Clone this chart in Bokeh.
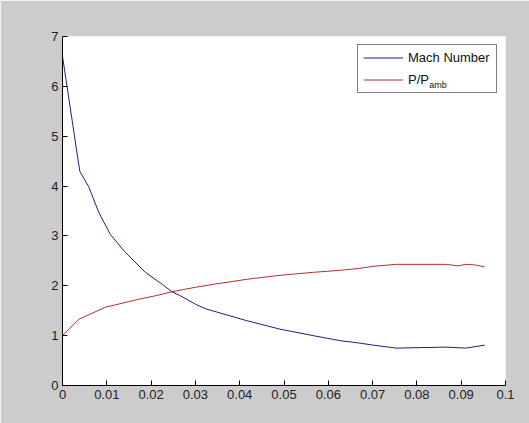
from bokeh.plotting import figure
from bokeh.models import Range1d, FixedTicker, CustomJSTickFormatter, Legend, LegendItem
from bokeh.core.properties import value
from bokeh.embed import file_html
from bokeh.resources import INLINE

# Mach number along the nozzle
mach_x = [0, 0.0039, 0.006, 0.0082, 0.0108, 0.0142, 0.0187, 0.0225, 0.0247, 0.0266,
          0.0300, 0.0326, 0.0416, 0.0491, 0.0566, 0.0626, 0.0671, 0.0701, 0.0754,
          0.0866, 0.0911, 0.0953]
mach_y = [6.6, 4.3, 3.97, 3.47, 3.03, 2.67, 2.27, 2.03, 1.88, 1.80,
          1.63, 1.53, 1.30, 1.13, 1.00, 0.90, 0.85, 0.81, 0.75,
          0.77, 0.75, 0.81]

# Pressure ratio P/P_amb
p_x = [0, 0.0037, 0.0097, 0.0172, 0.021, 0.0247, 0.030, 0.0341, 0.0416, 0.0491,
       0.0566, 0.0626, 0.0671, 0.0701, 0.0754, 0.0866, 0.0893, 0.0911, 0.093, 0.0953]
p_y = [1.0, 1.33, 1.57, 1.73, 1.80, 1.88, 1.97, 2.03, 2.13, 2.21,
       2.27, 2.31, 2.35, 2.39, 2.43, 2.43, 2.40, 2.43, 2.42, 2.38]

x_ticks = [0, 0.01, 0.02, 0.03, 0.04, 0.05, 0.06, 0.07, 0.08, 0.09, 0.1]
y_ticks = [0, 1, 2, 3, 4, 5, 6, 7]

BG = "#cccccc"
FONT = "Liberation Sans"

p = figure(width=529, height=423, output_backend="svg", toolbar_location=None,
           x_range=Range1d(0, 0.1), y_range=Range1d(0, 7),
           min_border_left=62, min_border_top=36, min_border_right=24, min_border_bottom=38)
p.border_fill_color = BG
p.background_fill_color = "white"
p.outline_line_color = None
p.grid.visible = False

for ax in (p.xaxis[0], p.yaxis[0]):
    ax.major_tick_in = 5
    ax.major_tick_out = 0
    ax.minor_tick_line_color = None
    ax.axis_line_color = "black"
    ax.major_tick_line_color = "black"
    ax.major_label_text_font = FONT
    ax.major_label_text_font_size = "13px"
    ax.major_label_text_color = "#222222"
    ax.major_label_standoff = 4

p.xaxis[0].ticker = FixedTicker(ticks=x_ticks)
p.yaxis[0].ticker = FixedTicker(ticks=y_ticks)
p.xaxis[0].formatter = CustomJSTickFormatter(code="return String(Number(tick.toFixed(2)));")

r1 = p.line(mach_x, mach_y, line_color="#20207e", line_width=1)
r2 = p.line(p_x, p_y, line_color="#b03030", line_width=1)

# subscript of the legend label P/P_amb (legend box is transparent; curves never reach it)
p.text(x=[0.0828], y=[6.02], text=["amb"], text_font=value(FONT), text_font_size="9px",
       text_color="#111111", text_baseline="alphabetic")

legend = Legend(items=[LegendItem(label="Mach Number", renderers=[r1]),
                       LegendItem(label="P/P", renderers=[r2])],
                location="top_right")
legend.margin = 8
legend.padding = 5
legend.spacing = 7
legend.label_height = 15
legend.glyph_height = 15
legend.glyph_width = 40
legend.label_standoff = 5
legend.label_width = 83
legend.label_text_font = FONT
legend.label_text_font_size = "13px"
legend.label_text_color = "#111111"
legend.border_line_color = "black"
legend.border_line_width = 1
legend.background_fill_alpha = 0.0
p.add_layout(legend)

open("out.html", "w").write(file_html(p, INLINE))
